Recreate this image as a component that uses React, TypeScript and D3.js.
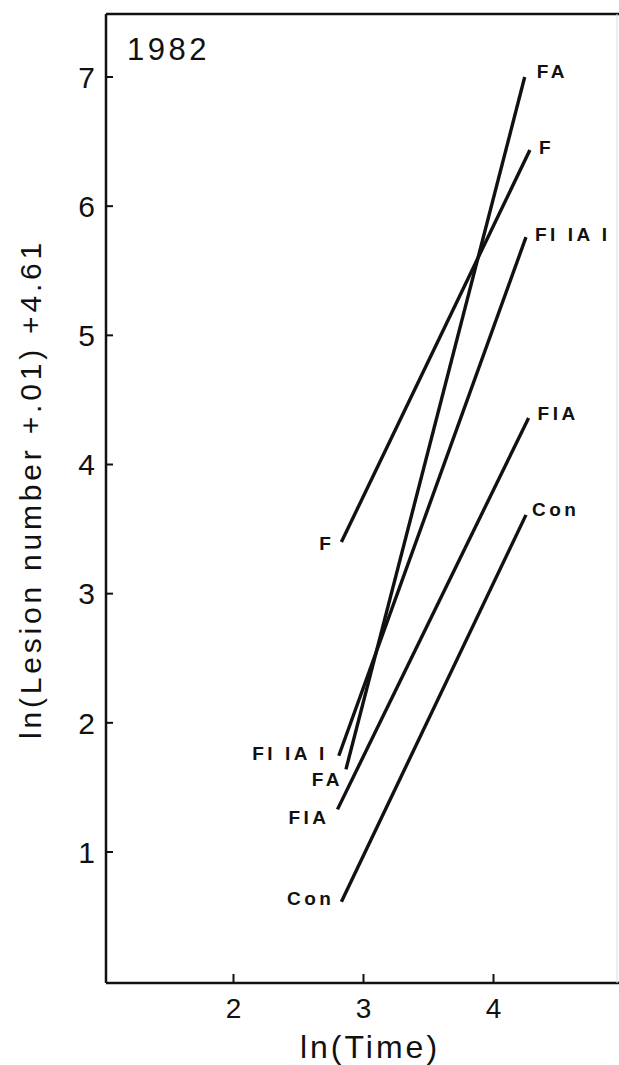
import React from "react";
import * as d3 from "d3";

// ln(Time) at the two ends of each fitted line
const seriesNames = ["FA", "F", "FI IA I", "FIA", "Con"];
const startTime = [2.865, 2.83, 2.81, 2.8, 2.83];
const endTime = [4.24, 4.28, 4.25, 4.27, 4.25];
// ln(Lesion number +.01) +4.61 at the two ends
const startValue = [1.64, 3.4, 1.745, 1.33, 0.615];
const endValue = [7.0, 6.435, 5.76, 4.36, 3.61];

const xTicks = [2, 3, 4];
const yTicks = [1, 2, 3, 4, 5, 6, 7];
const yearLabel = "1982";

// label nudges in px: [dx, dy] at start (left) and end (right)
const startNudge: [number, number][] = [[-3, 10], [-7, 1], [-11, -3], [-8, 8], [-7, -4]];
const endNudge: [number, number][] = [[12, -6], [9, -3], [9, -3], [9, -5], [6, -6]];

const W = 619;
const H = 1065;
const frame = {left: 106, top: 14, bottom: 983, right: 619};
const font = "'Liberation Sans', Arial, Helvetica, sans-serif";

export default function App() {
  const x = d3.scaleLinear().domain([2, 4]).range([233.5, 493.5]);
  const y = d3.scaleLinear().domain([1, 7]).range([852, 77]);

  const line = d3.line<[number, number]>()
    .x(d => x(d[0]))
    .y(d => y(d[1]));

  return (
    <svg width={W} height={H} style={{position: "absolute", left: 0, top: 0, background: "#fff"}}>
      {/* frame */}
      <g stroke="#111" strokeWidth={2.5} fill="none">
        <line x1={frame.left} y1={frame.top} x2={frame.right} y2={frame.top} />
        <line x1={frame.left} y1={frame.top} x2={frame.left} y2={frame.bottom} />
        <line x1={frame.left} y1={frame.bottom} x2={frame.right} y2={frame.bottom} />
      </g>
      <line x1={617} y1={frame.top} x2={617} y2={frame.bottom} stroke="#ddd" strokeWidth={1} />

      {/* y ticks */}
      {yTicks.map(t => (
        <g key={"y" + t}>
          <line x1={frame.left} x2={frame.left + 7} y1={y(t)} y2={y(t)} stroke="#111" strokeWidth={2} />
          <text x={frame.left - 11} y={y(t)} dy="0.36em" textAnchor="end"
            fontFamily={font} fontSize={30} fill="#111">{t}</text>
        </g>
      ))}

      {/* x ticks */}
      {xTicks.map(t => (
        <g key={"x" + t}>
          <line x1={x(t)} x2={x(t)} y1={frame.bottom} y2={frame.bottom - 9} stroke="#111" strokeWidth={2} />
          <text x={x(t)} y={1018} textAnchor="middle"
            fontFamily={font} fontSize={28} fill="#111">{t}</text>
        </g>
      ))}

      {/* axis titles */}
      <text x={370} y={1058} textAnchor="middle" fontFamily={font} fontSize={32}
        letterSpacing={3} fill="#111">ln(Time)</text>
      <text transform="translate(41,489) rotate(-90)" textAnchor="middle" fontFamily={font}
        fontSize={30} letterSpacing={3.8} fill="#111">ln(Lesion number +.01) +4.61</text>

      <text x={127} y={60} fontFamily={font} fontSize={31} letterSpacing={3.5} fill="#111">{yearLabel}</text>

      {/* fitted lines */}
      {seriesNames.map((name, i) => {
        const pts: [number, number][] = [[startTime[i], startValue[i]], [endTime[i], endValue[i]]];
        return (
          <g key={name}>
            <path d={line(pts) || ""} stroke="#111" strokeWidth={3.4} fill="none" />
            <text x={x(startTime[i]) + startNudge[i][0]} y={y(startValue[i]) + startNudge[i][1]}
              dy="0.36em" textAnchor="end" fontFamily={font} fontSize={19} fontWeight="bold"
              letterSpacing={3.5} fill="#111">{name}</text>
            <text x={x(endTime[i]) + endNudge[i][0]} y={y(endValue[i]) + endNudge[i][1]}
              dy="0.36em" textAnchor="start" fontFamily={font} fontSize={19} fontWeight="bold"
              letterSpacing={3.5} fill="#111">{name}</text>
          </g>
        );
      })}
    </svg>
  );
}
